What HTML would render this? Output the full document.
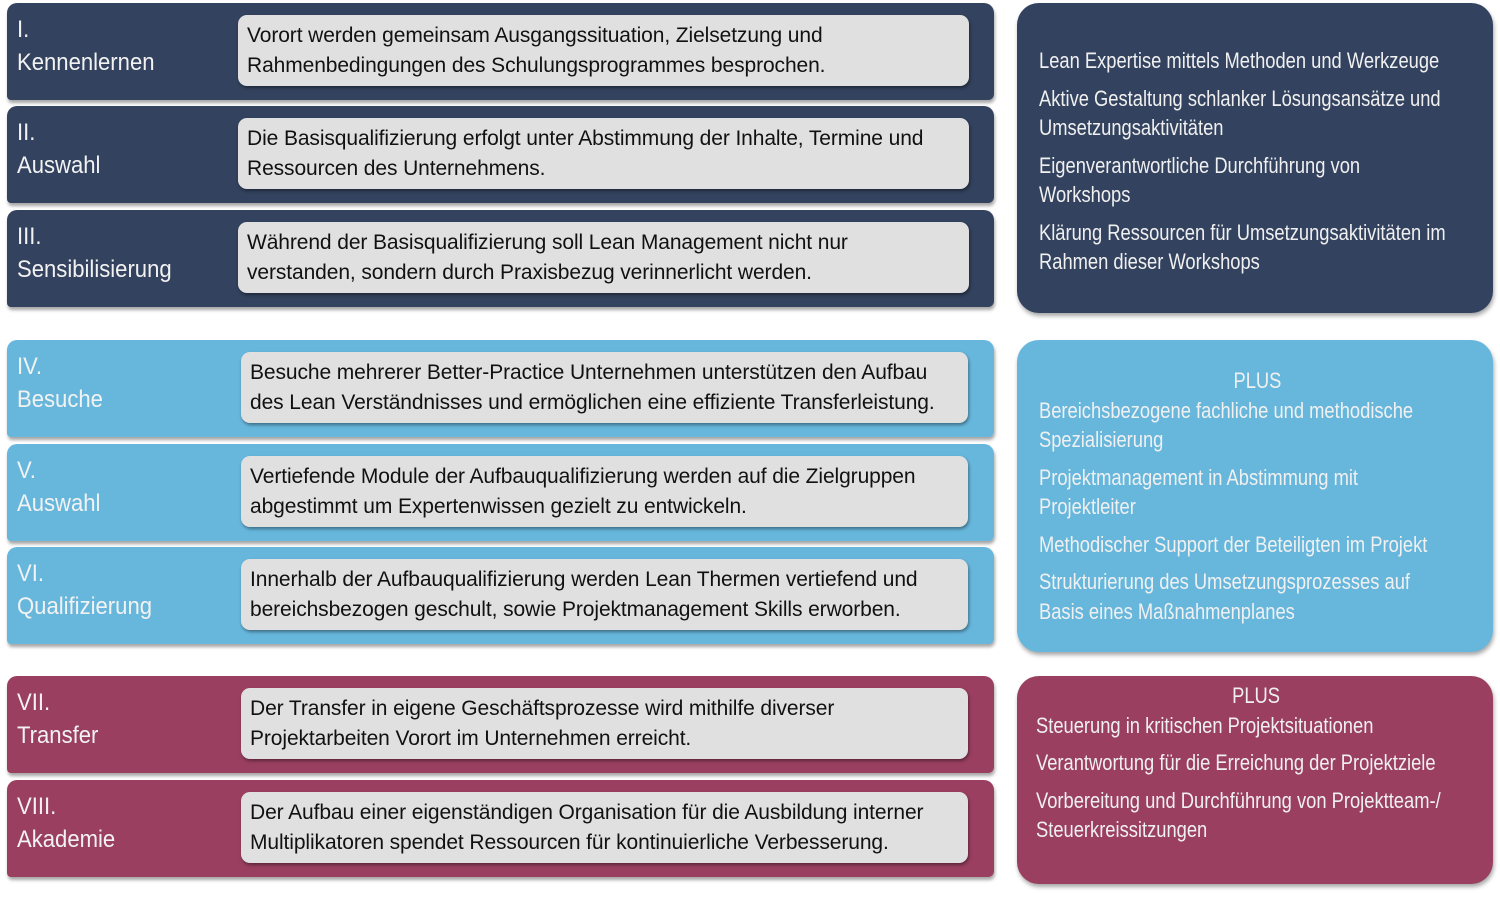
<!DOCTYPE html>
<html><head><meta charset="utf-8"><style>
body{margin:0;width:1500px;height:897px;background:#fff;position:relative;overflow:hidden;font-family:"Liberation Sans",sans-serif}
.bar{position:absolute;left:7px;width:987px;height:97px;border-radius:10px 10px 6px 4px;box-shadow:1px 3px 3px rgba(0,0,0,.35)}
.lab{position:absolute;left:10px;top:10px;color:#f2f2f2;font-size:24px;line-height:33px;white-space:nowrap;transform:scaleX(0.92);transform-origin:0 0}
.box{position:absolute;top:12px;height:71px;width:731px;background:#e0e0e0;border-radius:9px;box-shadow:1px 2px 3px rgba(0,0,0,.4);color:#111;font-size:21px;line-height:29.5px;padding:6px 0 0 9px;box-sizing:border-box;letter-spacing:-0.1px;white-space:nowrap}
.n{background:#33425e}.b{background:#67b7dd}.m{background:#9a3f60}
.pan{position:absolute;left:1017px;width:476px;border-radius:22px;box-shadow:1px 3px 4px rgba(0,0,0,.35);color:#f0f0f0;box-sizing:border-box}
.in{font-size:22.5px;line-height:29.5px;white-space:nowrap;transform:scaleX(0.815);transform-origin:0 0;width:560px}
.in p{margin:0 0 8px 0}
.in .h{text-align:center;margin:0;width:536px}
</style></head><body>
<div class="bar n" style="top:3px"><div class="lab">I.<br>Kennenlernen</div><div class="box" style="left:231px">Vorort werden gemeinsam Ausgangssituation, Zielsetzung und<br>Rahmenbedingungen des Schulungsprogrammes besprochen.</div></div>
<div class="bar n" style="top:106px"><div class="lab">II.<br>Auswahl</div><div class="box" style="left:231px">Die Basisqualifizierung erfolgt unter Abstimmung der Inhalte, Termine und<br>Ressourcen des Unternehmens.</div></div>
<div class="bar n" style="top:210px"><div class="lab">III.<br>Sensibilisierung</div><div class="box" style="left:231px">Während der Basisqualifizierung soll Lean Management nicht nur<br>verstanden, sondern durch Praxisbezug verinnerlicht werden.</div></div>

<div class="bar b" style="top:340px"><div class="lab">IV.<br>Besuche</div><div class="box" style="left:234px;width:727px">Besuche mehrerer Better-Practice Unternehmen unterstützen den Aufbau<br>des Lean Verständnisses und ermöglichen eine effiziente Transferleistung.</div></div>
<div class="bar b" style="top:444px"><div class="lab">V.<br>Auswahl</div><div class="box" style="left:234px;width:727px">Vertiefende Module der Aufbauqualifizierung werden auf die Zielgruppen<br>abgestimmt um Expertenwissen gezielt zu entwickeln.</div></div>
<div class="bar b" style="top:547px"><div class="lab">VI.<br>Qualifizierung</div><div class="box" style="left:234px;width:727px">Innerhalb der Aufbauqualifizierung werden Lean Thermen vertiefend und<br>bereichsbezogen geschult, sowie Projektmanagement Skills erworben.</div></div>

<div class="bar m" style="top:676px"><div class="lab">VII.<br>Transfer</div><div class="box" style="left:234px;width:727px">Der Transfer in eigene Geschäftsprozesse wird mithilfe diverser<br>Projektarbeiten Vorort im Unternehmen erreicht.</div></div>
<div class="bar m" style="top:780px"><div class="lab">VIII.<br>Akademie</div><div class="box" style="left:234px;width:727px">Der Aufbau einer eigenständigen Organisation für die Ausbildung interner<br>Multiplikatoren spendet Ressourcen für kontinuierliche Verbesserung.</div></div>

<div class="pan n" style="top:3px;height:310px;padding:43px 0 0 22px"><div class="in">
<p>Lean Expertise mittels Methoden und Werkzeuge</p>
<p>Aktive Gestaltung schlanker Lösungsansätze und<br>Umsetzungsaktivitäten</p>
<p>Eigenverantwortliche Durchführung von<br>Workshops</p>
<p>Klärung Ressourcen für Umsetzungsaktivitäten im<br>Rahmen dieser Workshops</p>
</div></div>
<div class="pan b" style="top:340px;height:312px;padding:26px 0 0 22px"><div class="in">
<p class="h">PLUS</p>
<p>Bereichsbezogene fachliche und methodische<br>Spezialisierung</p>
<p>Projektmanagement in Abstimmung mit<br>Projektleiter</p>
<p>Methodischer Support der Beteiligten im Projekt</p>
<p>Strukturierung des Umsetzungsprozesses auf<br>Basis eines Maßnahmenplanes</p>
</div></div>
<div class="pan m" style="top:676px;height:208px;padding:5px 0 0 19px"><div class="in">
<p class="h" style="width:540px">PLUS</p>
<p>Steuerung in kritischen Projektsituationen</p>
<p>Verantwortung für die Erreichung der Projektziele</p>
<p>Vorbereitung und Durchführung von Projektteam-/<br>Steuerkreissitzungen</p>
</div></div>
</body></html>
